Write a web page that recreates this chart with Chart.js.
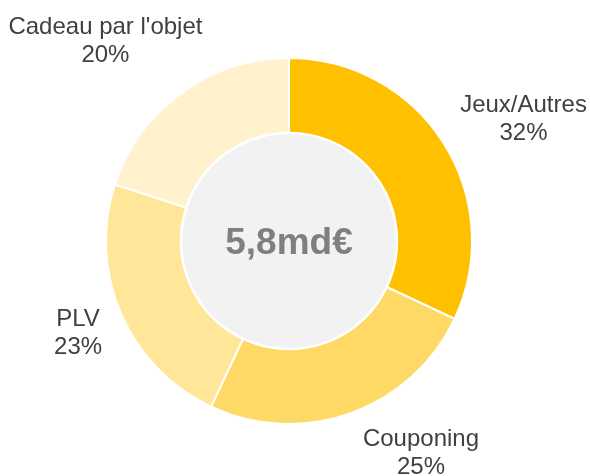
<!DOCTYPE html>
<html>
<head>
<meta charset="utf-8">
<script src="https://cdn.jsdelivr.net/npm/chart.js@4/dist/chart.umd.min.js"></script>
<style>
  html, body { margin: 0; padding: 0; background: #fff; }
  #wrap { width: 590px; height: 476px; }
</style>
</head>
<body>
<div id="wrap"><canvas id="chart" width="590" height="476"></canvas></div>
<script>
// donnees
const categories = ['Jeux/Autres', 'Couponing', 'PLV', "Cadeau par l'objet"];
const parts = [32, 25, 23, 20];
const couleurs = ['#FFC000', '#FFD966', '#FFE699', '#FFF2CC'];
const totalLabel = '5,8md€';

// decalage des etiquettes par rapport au bord exterieur (px)
const decalages = [[80, -24], [70, 40], [-43, 20], [-76, -52]];

// cercle central + texte
const centrePlugin = {
    id: 'centre',
    afterDatasetsDraw(chart) {
        const arc = chart.getDatasetMeta(0).data[0];
        const ctx = chart.ctx;
        ctx.save();
        ctx.beginPath();
        ctx.arc(arc.x, arc.y, arc.innerRadius, 0, Math.PI * 2);
        ctx.fillStyle = '#F2F2F2';
        ctx.fill();
        ctx.lineWidth = 2.5;
        ctx.strokeStyle = '#ffffff';
        ctx.stroke();
        ctx.fillStyle = '#7F7F7F';
        ctx.font = 'bold 37px "Liberation Sans", Arial, sans-serif';
        ctx.textAlign = 'center';
        ctx.textBaseline = 'middle';
        ctx.fillText(totalLabel, arc.x, arc.y + 3);
        ctx.restore();
    }
};

// etiquettes exterieures
const etiquettesPlugin = {
    id: 'etiquettes',
    afterDraw(chart) {
        const ctx = chart.ctx;
        const meta = chart.getDatasetMeta(0);
        ctx.save();
        ctx.fillStyle = '#404040';
        ctx.font = '24px "Liberation Sans", Arial, sans-serif';
        ctx.textAlign = 'center';
        ctx.textBaseline = 'middle';
        meta.data.forEach((arc, i) => {
            const mid = (arc.startAngle + arc.endAngle) / 2;
            const x = arc.x + Math.cos(mid) * arc.outerRadius + decalages[i][0];
            const y = arc.y + Math.sin(mid) * arc.outerRadius + decalages[i][1];
            ctx.fillText(categories[i], x, y - 14);
            ctx.fillText(parts[i] + '%', x, y + 14);
        });
        ctx.restore();
    }
};

new Chart(document.getElementById('chart'), {
    type: 'doughnut',
    data: {
        labels: categories,
        datasets: [{
            data: parts,
            backgroundColor: couleurs,
            borderColor: '#ffffff',
            borderWidth: 2
        }]
    },
    options: {
        responsive: false,
        animation: false,
        cutout: '59%',
        layout: { padding: { left: 105, right: 117, top: 57, bottom: 51 } },
        plugins: {
            legend: { display: false },
            tooltip: { enabled: false }
        }
    },
    plugins: [centrePlugin, etiquettesPlugin]
});
</script>
</body>
</html>
